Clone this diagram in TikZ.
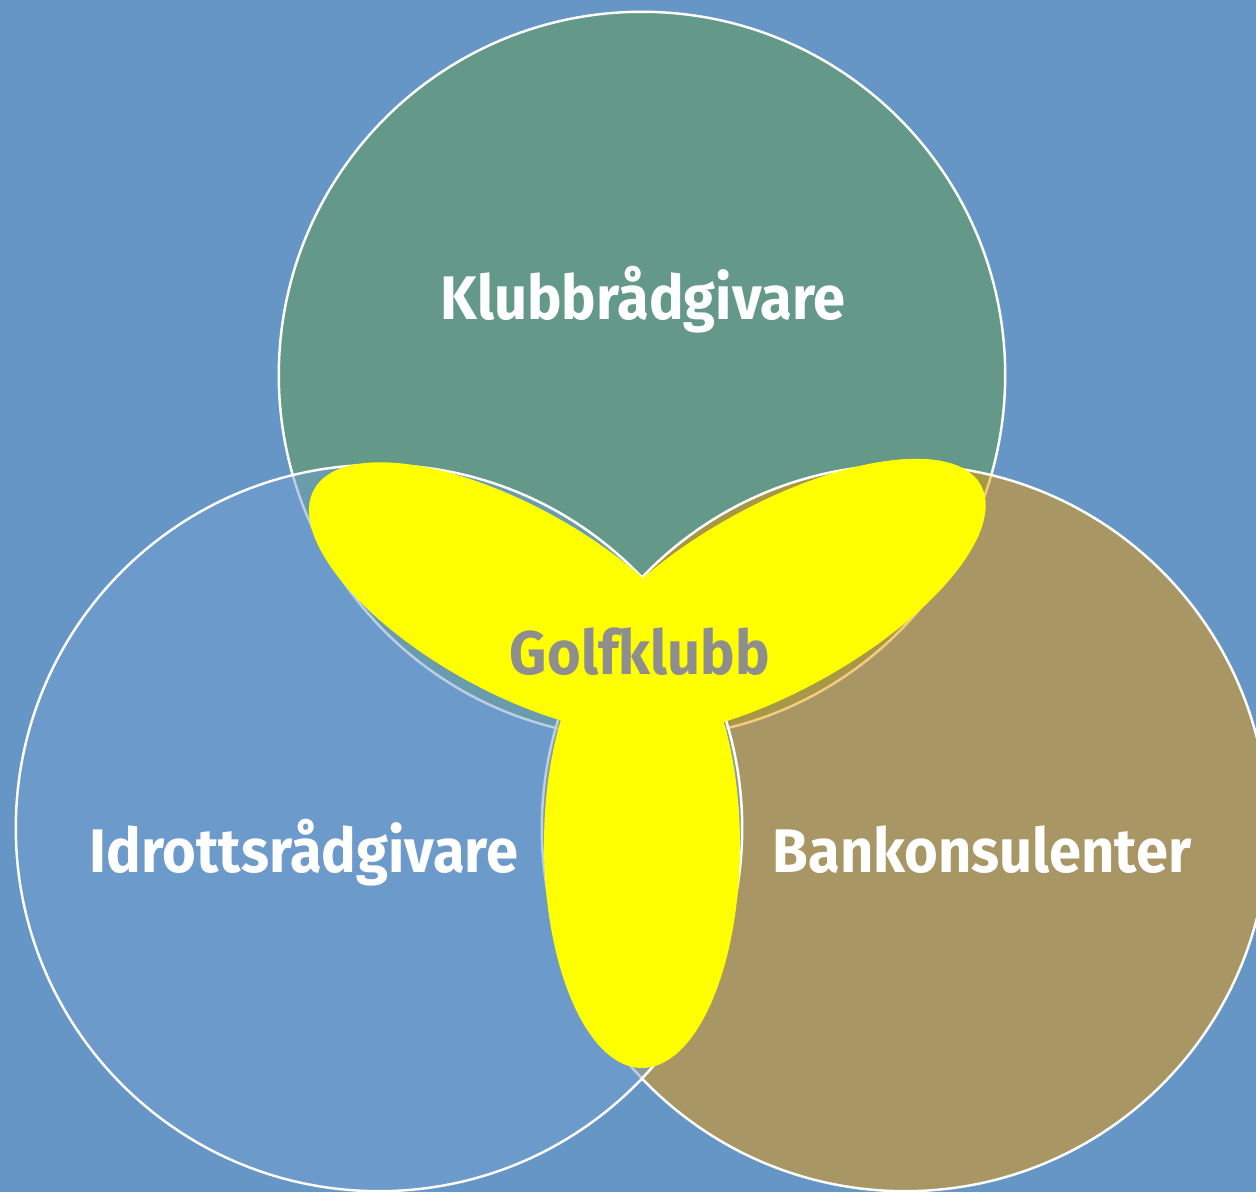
\documentclass[tikz,border=0pt]{standalone}
\usepackage{fontspec}
\setmainfont[FakeStretch=0.94]{Fira Sans}
\usepackage{tikz}
\usetikzlibrary{shapes, positioning, calc}
\definecolor{bgblue}{RGB}{101,150,198}
\definecolor{clubgreen}{RGB}{100,153,138}
\definecolor{sportblue}{RGB}{115,160,208}
\definecolor{bankolive}{RGB}{235,152,4}
\definecolor{golfyellow}{RGB}{255,255,0}
\definecolor{golfgray}{RGB}{142,142,142}

\begin{document}
\begin{tikzpicture}[x=0.01cm, y=-0.01cm,
    group/.style={circle,
      draw=white,
      line width=0.7pt,
      minimum size=7.26cm,
      inner sep=0pt},
    grouplabel/.style={anchor=base,
      text=white,
      font=\fontsize{17.5}{20}\selectfont\bfseries},
    petal/.style={fill=golfyellow}]

  % BACKGROUND

  \fill[bgblue] (0,0) rectangle (1256,1192);
  \useasboundingbox (0,0) rectangle (1256,1192);

  % GROUPS

  \node[group, fill=clubgreen] (klubb) at (642,375) {};

  \node[group, fill=bankolive, fill opacity=0.5] (bank) at (905,828) {};

  \node[group, fill=sportblue, fill opacity=0.5] (idrott) at (379,828) {};

  % CLUB

  \fill[petal, rotate around={29:(777,598)}] (777,598) ellipse [x radius=233, y radius=93];
  \fill[petal, rotate around={-29:(510,598)}] (510,598) ellipse [x radius=224, y radius=93];
  \fill[petal] (642,845) ellipse [x radius=98, y radius=223];

  % LABELS

  \node[grouplabel] (klubbtext) at (643,320) {Klubbrådgivare};
  \node[grouplabel] (idrotttext) at (304,873) {Idrottsrådgivare};
  \node[grouplabel] (banktext) at (982,873) {Bankonsulenter};
  \node[grouplabel, text=golfgray] (golftext) at (640,675) {Golfklubb};

\end{tikzpicture}
\end{document}
